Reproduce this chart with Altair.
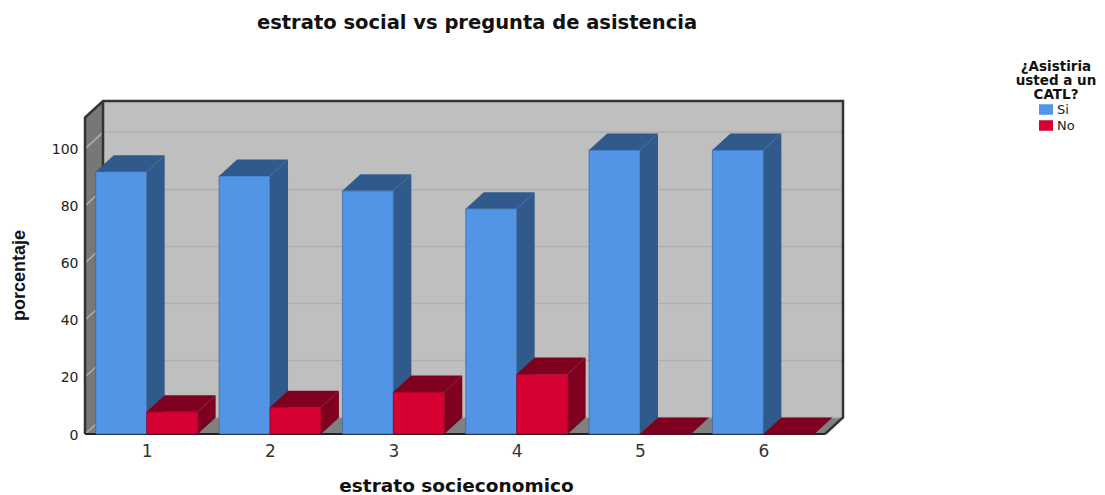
import altair as alt
import pandas as pd

categories = [1, 2, 3, 4, 5, 6]
si_values = [92.0, 90.5, 85.3, 79.0, 99.6, 99.6]
no_values = [7.8, 9.4, 14.7, 21.0, 0.0, 0.0]
y_ticks = [0, 20, 40, 60, 80, 100]
series_colors = ["#5294e6", "#d60032"]
series_dark = ["#315a8c", "#800020"]

X0, X1 = 0.5, 6.5
DX, DY = 0.146, 5.8
YTOP = 111.0
BAR = 0.413

xs = alt.Scale(domain=[X0, X1 + DX], nice=False, zero=False)
ys = alt.Scale(domain=[0, YTOP + DY], nice=False, zero=False)


def X(field="x", **kw):
    return alt.X(f"{field}:Q", scale=xs, axis=None, title=None, **kw)


def Y(field="y", **kw):
    return alt.Y(f"{field}:Q", scale=ys, axis=None, title=None, **kw)


# walls and floor -------------------------------------------------------
back = alt.Chart(pd.DataFrame({"x": [X0 + DX], "x2": [X1 + DX], "y": [DY], "y2": [YTOP + DY]})).mark_rect(
    color="#bfbfbf"
).encode(x=X(), x2="x2:Q", y=Y(), y2="y2:Q")

left = alt.Chart(pd.DataFrame({"x": [X0, X0 + DX], "y": [0, DY], "y2": [YTOP, YTOP + DY]})).mark_area(
    color="#777777", opacity=1
).encode(x=X(), y=Y(), y2="y2:Q")

floor = alt.Chart(pd.DataFrame({"y": [0, DY], "x": [X0, X0 + DX], "x2": [X1, X1 + DX]})).mark_area(
    color="#808080", orient="horizontal", opacity=1
).encode(y=Y(), x=X(), x2="x2:Q")

# grid ------------------------------------------------------------------
grid_rows = []
for v in y_ticks:
    for i, (gx, gy) in enumerate([(X0, v), (X0 + DX, v + DY), (X1 + DX, v + DY)]):
        grid_rows.append({"t": v, "i": i, "x": gx, "y": gy})
grid = alt.Chart(pd.DataFrame(grid_rows)).mark_line(color="#aeaeae", strokeWidth=1.5).encode(
    x=X(), y=Y(), detail="t:N", order="i:Q"
)

# outlines --------------------------------------------------------------
outline_paths = {
    "a": [(X0 + DX, DY), (X0 + DX, YTOP + DY)],
    "b": [(X0, 0), (X0, YTOP), (X0 + DX, YTOP + DY), (X1 + DX, YTOP + DY), (X1 + DX, DY), (X1, 0)],
}
outline_rows = [
    {"p": p, "i": i, "x": a, "y": b}
    for p, pts in outline_paths.items()
    for i, (a, b) in enumerate(pts)
]
outline = alt.Chart(pd.DataFrame(outline_rows)).mark_line(color="#333333", strokeWidth=2.5).encode(
    x=X(), y=Y(), detail="p:N", order="i:Q"
)
base_line = alt.Chart(pd.DataFrame({"x": [X0], "x2": [X1], "y": [0]})).mark_rule(
    color="#222222", strokeWidth=2
).encode(x=X(), x2="x2:Q", y=Y())

# bars ------------------------------------------------------------------
front_rows, side_rows, top_rows = [], [], []
for c, si, no in zip(categories, si_values, no_values):
    for name, val, lo in (("Si", si, c - BAR), ("No", no, c)):
        hi = lo + BAR
        key = f"{name}{c}"
        front_rows.append({"serie": name, "x": lo, "x2": hi, "y": 0, "y2": val})
        side_rows.append({"k": key, "serie": name, "x": hi, "y": 0, "y2": val})
        side_rows.append({"k": key, "serie": name, "x": hi + DX, "y": DY, "y2": val + DY})
        top_rows.append({"k": key, "serie": name, "y": val, "x": lo, "x2": hi})
        top_rows.append({"k": key, "serie": name, "y": val + DY, "x": lo + DX, "x2": hi + DX})

front_df = pd.DataFrame(front_rows)
side_df = pd.DataFrame(side_rows)
top_df = pd.DataFrame(top_rows)

legend = alt.Legend(
    title=["¿Asistiria", "usted a un", "CATL?"],
    orient="none",
    legendX=931,
    legendY=-41,
    padding=0,
    titleFont="DejaVu Sans",
    titleFontSize=13.5,
    titleFontWeight="bold",
    titleColor="#111111",
    titleLineHeight=14,
    titleAlign="center",
    titleAnchor="middle",
    titlePadding=1,
    titleLimit=200,
    labelFont="DejaVu Sans",
    labelFontSize=13,
    labelColor="#222222",
    labelOffset=4,
    symbolOffset=1,
    symbolType="M-1,-0.75H1V0.75H-1Z",
    symbolSize=196,
    symbolStrokeWidth=0,
    rowPadding=2,
)

bar_layers = []
for name, dark in zip(["Si", "No"], series_dark):
    side = alt.Chart(side_df[side_df.serie == name]).mark_area(
        color=dark, opacity=1, line={"color": "#2a2a2a", "strokeWidth": 0.3}
    ).encode(x=X(), y=Y(), y2="y2:Q", detail="k:N")
    top = alt.Chart(top_df[top_df.serie == name]).mark_area(color=dark, opacity=1, orient="horizontal").encode(
        y=Y(), x=X(), x2="x2:Q", detail="k:N"
    )
    front = alt.Chart(front_df[front_df.serie == name]).mark_rect(stroke=dark, strokeWidth=0.6, opacity=1).encode(
        x=X(),
        x2="x2:Q",
        y=Y(),
        y2="y2:Q",
        color=alt.Color(
            "serie:N",
            scale=alt.Scale(domain=["Si", "No"], range=series_colors),
            legend=legend,
        ),
    )
    bar_layers += [side, top, front]

# axes ------------------------------------------------------------------
axis_df = pd.DataFrame({"x": categories, "y": [0] * len(categories)})
axes = alt.Chart(axis_df).mark_point(opacity=0).encode(
    x=alt.X(
        "x:Q",
        scale=xs,
        title="estrato socieconomico",
        axis=alt.Axis(
            values=categories,
            format="d",
            grid=False,
            domain=False,
            ticks=False,
            labelFont="DejaVu Sans",
            labelFontSize=17,
            labelColor="#333333",
            labelPadding=9,
            titleFont="DejaVu Sans",
            titleFontSize=18.5,
            titleFontWeight="bold",
            titleColor="#111111",
            titleX=371,
            titleY=42,
        ),
    ),
    y=alt.Y(
        "y:Q",
        scale=ys,
        title="porcentaje",
        axis=alt.Axis(
            values=y_ticks,
            grid=False,
            domain=False,
            ticks=False,
            labelFont="DejaVu Sans",
            labelFontSize=14,
            labelColor="#222222",
            labelPadding=7,
            labelOffset=1,
            titleFont="Liberation Sans",
            titleFontSize=18,
            titleFontWeight="bold",
            titleColor="#111111",
            titleX=-57,
            titleY=174,
        ),
    ),
)

chart = alt.layer(axes, back, left, floor, grid, outline, base_line, *bar_layers).resolve_axis(
    x="independent", y="independent"
).properties(
    width=758,
    height=333,
    background="white",
    padding={"left": 77, "top": 93, "right": 254, "bottom": 61},
    autosize=alt.AutoSizeParams(type="none"),
    title=alt.TitleParams(
        "estrato social vs pregunta de asistencia",
        font="DejaVu Sans",
        fontSize=19.5,
        fontWeight="bold",
        color="#111111",
        anchor="middle",
        dx=13,
        offset=27,
    ),
).configure_view(stroke=None)

chart.save("out.html", embed_options={"renderer": "svg", "actions": False})
